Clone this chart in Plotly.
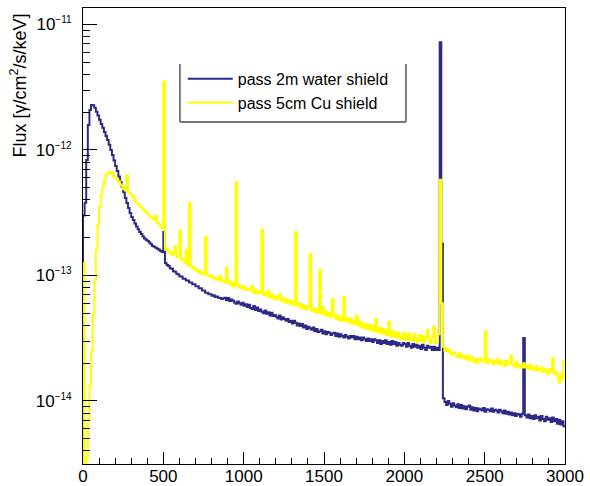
import numpy as np
import plotly.graph_objects as go

# ---- data: flux per 10 keV bin, in units of 1e-15 gamma/cm^2/s/keV ----
BIN_WIDTH_KEV = 10
E_MAX_KEV = 3000
FLUX_UNIT = 1e-15

water_2m = [
    300, 380, 830, 1580, 2080, 2280, 2270, 2170, 2020, 1880,
    1740, 1610, 1500, 1390, 1290, 1200, 1100, 1000, 910, 825,
    745, 680, 615, 555, 507, 460, 415, 378, 345, 315,
    293, 277, 260, 246, 233, 222, 214, 204, 197, 193,
    188, 183, 177, 172, 169, 166, 163, 160, 157, 154,
    222, 126, 121, 119, 114, 113, 108, 107, 103, 102,
    98, 98, 94, 94, 91, 91, 88, 88, 85, 85,
    82, 82, 79, 79, 76, 76, 73, 73, 71, 71,
    69, 69.5, 67.5, 68, 66.5, 66, 65, 65.5, 66.5, 63.5,
    66, 62.5, 64.5, 63, 61, 59.5, 62, 60, 58.5, 60.5,
    57.5, 59, 56, 58.5, 55, 54, 57, 53, 55.5, 52,
    53.5, 51.5, 50, 52.5, 49.5, 51, 48, 50.5, 47.5, 48.5,
    47, 45.5, 48, 44.5, 46.5, 45, 43.5, 45, 42.5, 43.5,
    41.5, 43.5, 42, 40, 41.5, 39.5, 41, 38.5, 40, 37.5,
    39, 38, 37, 38.5, 36, 37.5, 35.5, 36, 37, 34.5,
    36, 34, 35.5, 35, 33.5, 34.5, 35, 33, 34.5, 32.5,
    34, 33, 32, 33.5, 32.5, 31.5, 33, 32, 33, 31,
    32.5, 31, 32, 30.5, 32, 31, 30, 31.5, 30, 31,
    29.5, 31, 30.5, 29, 30.5, 28.5, 30, 29, 30.5, 28.5,
    29.5, 28, 30, 28.5, 29.5, 27.5, 29, 28, 27.5, 29,
    28.5, 27, 29, 27.5, 26.5, 28.5, 27, 28, 26.5, 27.5,
    26, 28, 26.5, 25.5, 27.5, 26.5, 27, 25.5, 27, 25.5,
    26.5, 25.5, 7200, 180, 10.5, 9.8, 9.3, 10, 9.5, 9.0,
    9.6, 9.2, 8.9, 9.4, 8.8, 9.3, 8.7, 9.1, 8.6, 9.0,
    9.2, 8.5, 8.9, 8.4, 8.8, 8.3, 8.7, 8.6, 8.4, 8.8,
    8.2, 8.6, 8.5, 8.3, 8.7, 8.2, 8.5, 8.4, 8.1, 8.5,
    8.3, 8.0, 8.4, 7.9, 8.2, 7.8, 8.1, 7.7, 8.0, 7.6,
    7.9, 7.8, 7.5, 7.9, 31.7, 7.7, 7.4, 7.8, 7.3, 7.6,
    7.2, 7.7, 7.3, 7.5, 7.0, 7.6, 7.2, 6.9, 7.5, 7.1,
    7.3, 6.8, 7.4, 6.9, 7.2, 6.6, 7.1, 6.5, 6.9, 6.3,
]

cu_5cm = [
    126, 1.5, 3.5, 7, 13.5, 25, 48, 92, 160, 252,
    350, 440, 510, 570, 625, 655, 668, 645, 665, 615,
    600, 575, 560, 530, 512, 488, 478, 632, 463, 450,
    432, 420, 398, 382, 372, 358, 350, 336, 330, 316,
    310, 298, 294, 282, 278, 300, 262, 258, 242, 238,
    3500, 160, 165, 152, 155, 146, 150, 172, 140, 142,
    227, 133, 134, 126, 160, 120, 378, 119, 113, 115,
    109, 111, 105, 108, 102, 104, 203, 100, 98, 101,
    96, 97, 93, 96, 92, 99, 90, 91, 88, 115,
    87, 90, 83, 87, 82, 556, 84, 80, 83, 79,
    81, 77, 79, 76.5, 78, 82, 73, 77, 72, 75,
    73, 231, 70, 73, 68.5, 76, 67, 70.5, 65.5, 68.5,
    64.5, 67.5, 71, 63, 66, 61.5, 64, 60.5, 63.5, 59,
    62, 58.5, 222, 57.5, 60, 55.5, 58.5, 54.5, 57.5, 53.5,
    56.5, 148, 52.5, 55, 51, 54, 50.5, 111, 50, 56,
    48.5, 51.5, 47.5, 50.5, 46.5, 65, 48.5, 45, 48, 44,
    47, 43.5, 67, 43.5, 46, 42, 45, 41.5, 44, 41,
    48, 40, 43, 38.5, 41.5, 38, 41, 37.5, 40.5, 36.5,
    39.5, 36, 45, 35.5, 38.5, 35, 37.5, 34, 37, 33.5,
    43, 33, 36, 32.5, 35.5, 32, 35, 32.5, 31, 35,
    31.5, 34, 30.5, 34.5, 31, 30, 34, 31, 29.5, 33.5,
    30, 33, 29.5, 32.5, 37, 31, 29, 32, 39, 29,
    29.5, 34, 580, 60, 27, 25, 26, 24.5, 25.5, 23.5,
    24, 24.5, 23, 22.5, 24, 22, 23, 22.5, 21.5, 23,
    21, 22, 22.5, 20.5, 21.5, 20, 21.5, 22, 20.5, 21,
    36, 20, 21.5, 20.5, 21, 19.5, 21, 20, 21.5, 19.5,
    20.5, 20, 19, 21, 19.5, 20, 23, 19.5, 19, 20.5,
    18.5, 19.5, 19, 18.5, 20, 18.5, 19, 18, 19.5, 18,
    18.5, 17.5, 19, 17.5, 18, 18.5, 17, 18, 17.5, 16.5,
    18, 17, 22, 16.5, 17, 15.5, 14, 16.5, 15, 21,
]

series_names = ["pass 2m water shield", "pass 5cm Cu shield"]
series_colors = ["#2d2a86", "#ffff00"]

y_tick_exponents = [-14, -13, -12, -11]

assert len(water_2m) == E_MAX_KEV // BIN_WIDTH_KEV
assert len(cu_5cm) == E_MAX_KEV // BIN_WIDTH_KEV

Y_LOG_RANGE = [-14.502, -10.869]
edges = np.arange(0, E_MAX_KEV + BIN_WIDTH_KEV, BIN_WIDTH_KEV)


def step_xy(vals):
    v = np.asarray(vals, dtype=float) * FLUX_UNIT
    floor = 10 ** (Y_LOG_RANGE[0] - 1)
    x = np.concatenate([[edges[0]], edges[:-1], [edges[-1]]])
    y = np.concatenate([[floor], v, [v[-1]]])
    return x, y


fig = go.Figure()
for vals, name, col in zip([water_2m, cu_5cm], series_names, series_colors):
    x, y = step_xy(vals)
    fig.add_trace(go.Scatter(x=x, y=y, mode="lines", name=name,
                             line=dict(color=col, width=2, shape="hv")))

FONT = "Liberation Sans, Arial, Helvetica, sans-serif"

ytickvals = [10.0 ** e for e in y_tick_exponents]
yticktext = ['10<sup><span style="font-size:10px">\u2212%d</span></sup>' % abs(e)
             for e in y_tick_exponents]

fig.update_layout(
    width=590, height=486,
    margin=dict(l=83, r=25, t=8, b=22, pad=0),
    paper_bgcolor="white", plot_bgcolor="white",
    font=dict(family=FONT, size=17, color="black"),
    showlegend=True,
    legend=dict(x=0.207, y=0.882, xanchor="left", yanchor="top",
                bgcolor="rgba(0,0,0,0)", borderwidth=0,
                font=dict(family=FONT, size=16, color="black"),
                itemwidth=45, tracegroupgap=0),
    xaxis=dict(range=[0, E_MAX_KEV], tick0=0, dtick=500, automargin=False,
               ticks="inside", ticklen=12, tickwidth=1, tickcolor="black",
               showline=True, linecolor="black", linewidth=1, mirror=True,
               showgrid=False, zeroline=False, ticklabelstandoff=-3,
               tickfont=dict(family=FONT, size=17, color="black"),
               minor=dict(dtick=100, ticks="inside", ticklen=6,
                          tickcolor="black", tickwidth=1, showgrid=False)),
    yaxis=dict(type="log", range=Y_LOG_RANGE, automargin=False,
               tickmode="array", tickvals=ytickvals, ticktext=yticktext,
               ticks="inside", ticklen=14, tickwidth=1, tickcolor="black",
               showline=True, linecolor="black", linewidth=1, mirror=True,
               showgrid=False, zeroline=False, ticklabelstandoff=7,
               tickfont=dict(family=FONT, size=17, color="black"),
               minor=dict(dtick="D1", ticks="inside", ticklen=7,
                          tickcolor="black", tickwidth=1, showgrid=False)),
)

# y-axis title (ROOT style: aligned to top of axis)
fig.add_annotation(text="Flux [γ/cm<sup>2</sup>/s/keV]", textangle=-90,
                   xref="paper", yref="paper", x=-0.134, y=0.831,
                   xanchor="center", yanchor="middle", showarrow=False,
                   font=dict(family=FONT, size=18, color="black"))

# legend frame (ROOT TLegend look)
LX0, LX1, LY0, LY1 = 0.2012, 0.6701, 0.750, 0.8772
fig.add_shape(type="line", xref="paper", yref="paper", x0=LX0, x1=LX0, y0=LY0, y1=LY1,
              line=dict(color="black", width=1))
fig.add_shape(type="line", xref="paper", yref="paper", x0=LX1, x1=LX1, y0=LY0, y1=LY1,
              line=dict(color="black", width=1))
fig.add_shape(type="line", xref="paper", yref="paper", x0=LX0, x1=LX1, y0=LY0, y1=LY0,
              line=dict(color="#777777", width=2))

fig.write_html("out.html")
